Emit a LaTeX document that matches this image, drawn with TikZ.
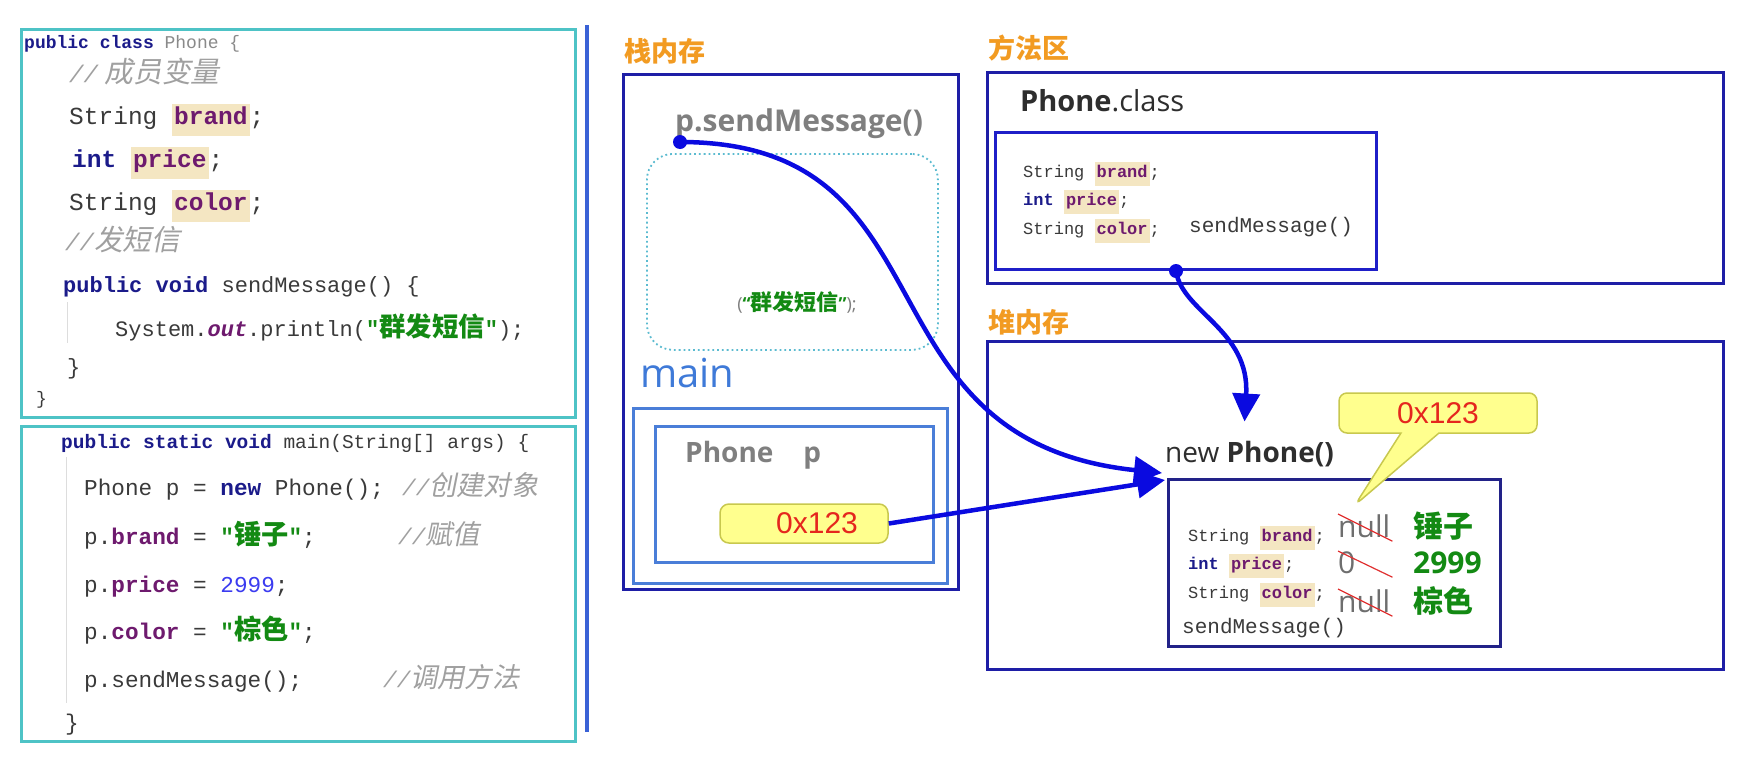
\documentclass[tikz,border=0pt]{standalone}
\usepackage{fontspec}
\setmainfont{Open Sans}
\setmonofont{Liberation Mono}
\newfontfamily\cjk{Noto Sans CJK SC}
\newfontfamily\cjkc{Noto Sans CJK SC}[Scale=1.2]
\newfontfamily\cjkit{Noto Sans CJK SC}[Scale=1.2,FakeSlant=0.2]
\newfontfamily\narrowsans{Liberation Sans}
\usetikzlibrary{arrows.meta, shapes.callouts}

\definecolor{kwblue}{HTML}{1B1B8A}
\definecolor{fieldc}{HTML}{6E1A6E}
\definecolor{hlbg}{HTML}{F4E6C2}
\definecolor{strgreen}{HTML}{138A13}
\definecolor{numblue}{HTML}{3B3BF0}
\definecolor{cmtgray}{HTML}{A0A0A0}
\definecolor{txtc}{HTML}{3A3A3A}
\definecolor{lightgrayc}{HTML}{8A8A8A}
\definecolor{areaorange}{HTML}{F29B22}
\definecolor{frameblue}{HTML}{1E1EA6}
\definecolor{innerblue}{HTML}{1F1FC8}
\definecolor{objblue}{HTML}{222288}
\definecolor{mainblue}{HTML}{4A7ED8}
\definecolor{mainlblue}{HTML}{3F7AD8}
\definecolor{tealc}{HTML}{4EC3C6}
\definecolor{dotteal}{HTML}{5BBBD0}
\definecolor{sepblue}{HTML}{3A62D6}
\definecolor{arrowblue}{HTML}{0A0AE0}
\definecolor{yellowc}{HTML}{FFFF8E}
\definecolor{olivec}{HTML}{C8C84E}
\definecolor{addrred}{HTML}{E5261E}
\definecolor{labgray}{HTML}{7F7F7F}
\definecolor{oldgray}{HTML}{6E6E6E}
\definecolor{darkc}{HTML}{2E2E2E}
\definecolor{guidec}{HTML}{DDDDDD}
\definecolor{strikered}{HTML}{E03030}

\newcommand\setpx[1]{\fontsize{#1pt}{#1pt}\selectfont}
\newcommand\jkw[1]{\textcolor{kwblue}{\bfseries #1}}
\newcommand\jfld[1]{\textcolor{fieldc}{\bfseries #1}}
\newcommand\jhl[1]{{\setlength\fboxsep{2pt}\colorbox{hlbg}{\rule[-0.4em]{0pt}{1.15em}\jfld{#1}}}}
\newcommand\jstr[1]{\textcolor{strgreen}{\bfseries"{\cjkc #1}"}}
\newcommand\jcmt[1]{\textcolor{cmtgray}{\itshape//{\cjkit #1}}}

\begin{document}
\begin{tikzpicture}[
    x=1pt, y=-1pt,
    codebox/.style={draw=tealc, line width=3pt, anchor=north west, inner sep=0pt},
    memframe/.style={draw=frameblue, line width=3pt, anchor=north west, inner sep=0pt},
    mframe/.style={draw=mainblue, line width=2.5pt, anchor=north west, inner sep=0pt},
    code/.style={anchor=base west, inner sep=0pt, font=\ttfamily\setpx{#1}, text=txtc},
    area/.style={anchor=west, inner sep=0pt, font=\cjk\bfseries\setpx{27}, text=areaorange},
    txtlbl/.style={anchor=base west, inner sep=0pt, text=labgray, font=\bfseries\setpx{#1}},
    dot/.style={circle, fill=arrowblue, inner sep=0pt, minimum size=14pt},
    flow/.style={draw=arrowblue, line width=4.5pt, -{Triangle[length=28pt,width=27pt]}},
    addr/.style={rectangle, rounded corners=9pt, draw=olivec, line width=1.5pt, fill=yellowc, text=addrred, font=\narrowsans\setpx{30}},
    oldv/.style={anchor=base west, inner sep=0pt, text width=54pt, text depth=4pt, text=oldgray, font=\setpx{30}},
    newv/.style={anchor=base west, inner sep=0pt, text=strgreen, font=\bfseries\setpx{30}},
    strike/.style={draw=strikered, line width=1.2pt},
    guide/.style={draw=guidec, line width=1pt}
]
\useasboundingbox (0,0) rectangle (1764,758);
\fill[white] (0,0) rectangle (1764,758);

% Source code
\node[codebox, minimum width=554pt, minimum height=388pt] (clsbox) at (20,28) {};
\node[codebox, minimum width=554pt, minimum height=315pt] (mainbox) at (20,425) {};
\draw[line width=4.5pt, sepblue] (587,25) -- (587,732);
\draw[guide] (67,302) -- (67,343);
\draw[guide] (66,457) -- (66,703);

\node[code=18] (c1) at (24,48) {\jkw{public class} \textcolor{lightgrayc}{Phone \{}};
\node[code=24] (c2) at (69,82) {\jcmt{ 成员变量}};
\node[code=24.5] (c3) at (69,124) {String \jhl{brand};};
\node[code=24.5] (c4) at (72,167) {\jkw{int} \jhl{price};};
\node[code=24.5] (c5) at (69,210) {String \jhl{color};};
\node[code=24] (c6) at (65,250) {\jcmt{发短信}};
\node[code=22] (c7) at (63,292) {\jkw{public void} sendMessage() \{};
\node[code=22] (c8) at (115,336) {System.\textcolor{fieldc}{\bfseries\itshape out}.println(\jstr{群发短信});};
\node[code=22] (c9) at (67,374) {\}};
\node[code=18] (c10) at (36,404) {\}};

\node[code=19.5] (m1) at (61,448) {\jkw{public static void} main(String[] args) \{};
\node[code=22.7] (m2) at (84,495) {Phone p = \jkw{new} Phone();};
\node[code=22.7] (m2c) at (402,495) {\jcmt{创建对象}};
\node[code=22.7] (m3) at (84,544) {p.\jfld{brand} = \jstr{锤子};};
\node[code=22.7] (m3c) at (398,544) {\jcmt{赋值}};
\node[code=22.7] (m4) at (84,592) {p.\jfld{price} = \textcolor{numblue}{2999};};
\node[code=22.7] (m5) at (84,639) {p.\jfld{color} = \jstr{棕色};};
\node[code=22.7] (m6) at (84,687) {p.sendMessage();};
\node[code=22.7] (m6c) at (383,687) {\jcmt{调用方法}};
\node[code=22.7] (m7) at (65,730) {\}};

% Stack
\node[area] (stacklbl) at (624,51) {栈内存};
\node[memframe, minimum width=335pt, minimum height=515pt] (stack) at (622,73) {};
\node[txtlbl=30] (call) at (675,131) {p.sendMessage()};
\node[anchor=north west, draw=dotteal, dash pattern=on 1.8pt off 3pt, line width=1.8pt, rounded corners=26pt, minimum width=291pt, minimum height=196pt, inner sep=0pt] (msgframe) at (646,153) {};
\node[inner sep=0pt, font=\setpx{18}] (printarg) at (797,302) {\textcolor{labgray}{(}\textcolor{strgreen}{\bfseries “{\cjk\setpx{22}群发短信}”}\textcolor{labgray}{);}};
\node[anchor=base west, inner sep=0pt, text=mainlblue, font=\setpx{40}] (mainlbl) at (640,387) {main};
\node[mframe, minimum width=314pt, minimum height=175pt] (mainframe) at (632,407) {};
\node[mframe, minimum width=278pt, minimum height=136pt] (varframe) at (654,425) {};
\node[txtlbl=28] (pvar) at (685,462) {Phone\hspace{30pt}p};
\node[addr, minimum width=168pt, minimum height=39pt] (paddr) at (804,523.5) {\hspace*{26pt}0x123};
\node[dot] (calldot) at (680,142) {};

% Method area
\node[area] (methodlbl) at (988,48) {方法区};
\node[memframe, minimum width=736pt, minimum height=211pt] (method) at (986,71) {};
\node[anchor=base west, inner sep=0pt, text=darkc, font=\setpx{29}] (clsname) at (1020,111) {\textbf{Phone}.class};
\node[anchor=north west, draw=innerblue, line width=3pt, inner sep=0pt, minimum width=381pt, minimum height=137pt] (clsdef) at (994,131) {};
\node[code=17] (f1) at (1023,177) {String \jhl{brand};};
\node[code=17] (f2) at (1023,205) {\jkw{int} \jhl{price};};
\node[code=17] (f3) at (1023,234) {String \jhl{color};};
\node[code=21] (f4) at (1189,232) {sendMessage()};
\node[dot] (classdot) at (1176,271) {};

% Heap
\node[area] (heaplbl) at (988,322) {堆内存};
\node[memframe, minimum width=736pt, minimum height=328pt] (heap) at (986,340) {};
\node[anchor=base west, inner sep=0pt, text=darkc, font=\setpx{28}] (newlbl) at (1165,462) {new \textbf{Phone()}};
\node[anchor=north west, draw=objblue, line width=3pt, inner sep=0pt, minimum width=332pt, minimum height=167pt] (obj) at (1167,478) {};
\node[code=17] (o1) at (1188,541) {String \jhl{brand};};
\node[code=17] (o2) at (1188,569) {\jkw{int} \jhl{price};};
\node[code=17] (o3) at (1188,598) {String \jhl{color};};
\node[code=21] (o4) at (1182,633) {sendMessage()};
\node[oldv] (old1) at (1338,537) {null};
\node[oldv] (old2) at (1338,573) {0};
\node[oldv] (old3) at (1338,612) {null};
\draw[strike] (old1.north west) -- (old1.south east);
\draw[strike] (old2.north west) -- (old2.south east);
\draw[strike] (old3.north west) -- (old3.south east);
\node[newv] (new1) at (1413,537) {\cjk 锤子};
\node[newv] (new2) at (1413,573) {2999};
\node[newv] (new3) at (1413,612) {\cjk 棕色};
\node[addr, rectangle callout, rounded corners=8pt, callout pointer width=38pt, callout absolute pointer={(1355,505)}, minimum width=198pt, minimum height=40pt] (objaddr) at (1438,413) {0x123};

% Arrows
\draw[flow] (calldot.center) .. controls (960,142) and (850,440) .. ([shift={(-5,-5)}]obj.north west);
\draw[flow] (paddr.east) -- ([shift={(-2,2)}]obj.north west);
\draw[flow] (classdot.center) .. controls (1182,312) and (1250,330) .. ([shift={(-5,-19)}]newlbl.north);

\end{tikzpicture}
\end{document}
